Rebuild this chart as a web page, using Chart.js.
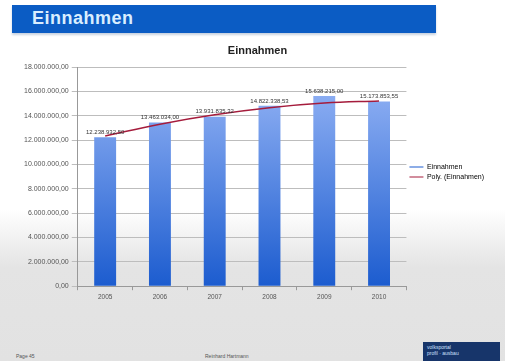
<!DOCTYPE html>
<html>
<head>
<meta charset="utf-8">
<script src="https://cdn.jsdelivr.net/npm/chart.js@4/dist/chart.umd.min.js"></script>
<style>
  html, body { margin: 0; padding: 0; }
  body {
    width: 505px; height: 361px; overflow: hidden; position: relative;
    font-family: "Liberation Sans", Arial, sans-serif;
    background: linear-gradient(to bottom, #ffffff 0%, #ffffff 58%, #e4e4e4 74%, #e2e2e2 100%);
  }
  #header {
    position: absolute; left: 12px; top: 5px; width: 424px; height: 28px;
    background: #0b5cc4; box-shadow: 0 2px 2px #c9d3e0;
  }
  #header span {
    position: absolute; left: 20px; top: 3px; font-size: 18px; font-weight: bold;
    color: #d9eeff; letter-spacing: 0.5px;
  }
  #wrap { position: absolute; left: 0; top: 40px; width: 500px; height: 264px; }
  .foot { position: absolute; font-size: 5px; color: #555; }
  #logo {
    position: absolute; left: 423px; top: 342px; width: 77px; height: 19px;
    background: #17356a; color: #cfe0ff; font-size: 5px; line-height: 6px; padding: 2px 4px; box-sizing: border-box;
  }
</style>
</head>
<body>
<div id="header"><span>Einnahmen</span></div>
<div id="wrap"><canvas id="chart"></canvas></div>
<div class="foot" style="left:16px; top:353px;">Page 45</div>
<div class="foot" style="left:205px; top:353px;">Reinhard Hartmann</div>
<div id="logo">volksportal<br>profil · ausbau</div>
<script>
const years = ['2005', '2006', '2007', '2008', '2009', '2010'];
const einnahmen = [12238932.50, 13463034.00, 13931835.32, 14822338.53, 15638215.00, 15173853.55];
const polyTrend = [12350000, 13320000, 14090000, 14670000, 15050000, 15230000];
const yTicks = [0, 2000000, 4000000, 6000000, 8000000, 10000000, 12000000, 14000000, 16000000, 18000000];

const fmt = v => v.toLocaleString('de-DE', { minimumFractionDigits: 2, maximumFractionDigits: 2 });
const FONT = '"Liberation Sans", Arial, sans-serif';

const barLabels = {
  id: 'barLabels',
  afterDatasetsDraw(chart) {
    const ctx = chart.ctx;
    const meta = chart.getDatasetMeta(1);
    ctx.save();
    ctx.font = '6px ' + FONT;
    ctx.fillStyle = '#333';
    ctx.textAlign = 'center';
    ctx.textBaseline = 'bottom';
    meta.data.forEach((bar, i) => {
      ctx.fillText(fmt(einnahmen[i]), bar.x, bar.y - 2);
    });
    ctx.restore();
  }
};

const ctx = document.getElementById('chart').getContext('2d');
new Chart(ctx, {
  data: {
    labels: years,
    datasets: [
      {
        type: 'line',
        label: 'Poly. (Einnahmen)',
        data: polyTrend,
        borderColor: '#a51c3c',
        backgroundColor: '#a51c3c',
        borderWidth: 1.5,
        pointRadius: 0,
        tension: 0.4,
        order: 0
      },
      {
        type: 'bar',
        label: 'Einnahmen',
        data: einnahmen,
        backgroundColor: (c) => {
          const area = c.chart.chartArea;
          if (!area) return '#3f7ae0';
          const g = c.chart.ctx.createLinearGradient(0, area.top, 0, area.bottom);
          g.addColorStop(0, '#9ab8f7');
          g.addColorStop(1, '#1c5ccf');
          return g;
        },
        borderWidth: 0,
        barPercentage: 0.4,
        categoryPercentage: 1,
        order: 1
      }
    ]
  },
  options: {
    responsive: true,
    maintainAspectRatio: false,
    animation: false,
    layout: { padding: { left: 21, right: 6, top: 0, bottom: 0 } },
    plugins: {
      title: {
        display: true,
        text: 'Einnahmen',
        color: '#222',
        font: { size: 11, weight: 'bold', family: FONT },
        padding: { top: 4, bottom: 10 }
      },
      legend: {
        position: 'right',
        align: 'center',
        reverse: true,
        labels: {
          boxWidth: 14,
          boxHeight: 1,
          padding: 3,
          color: '#333',
          font: { size: 7, family: FONT },
          generateLabels: (chart) => chart.data.datasets.map((d, i) => ({
            text: d.label,
            fillStyle: i === 0 ? '#a51c3c' : '#1c5ccf',
            strokeStyle: i === 0 ? '#a51c3c' : '#1c5ccf',
            lineWidth: 0,
            datasetIndex: i
          }))
        }
      },
      tooltip: { enabled: false }
    },
    scales: {
      x: {
        grid: { display: true, drawOnChartArea: false, offset: true, tickLength: 4, color: '#999' },
        border: { color: '#999' },
        ticks: { color: '#555', font: { size: 6.5, family: FONT }, padding: 3 }
      },
      y: {
        min: 0,
        max: 18000000,
        afterBuildTicks: (axis) => { axis.ticks = yTicks.map(v => ({ value: v })); },
        grid: { color: '#bdbdbd', tickLength: 6 },
        border: { color: '#999' },
        ticks: {
          color: '#555',
          font: { size: 7, family: FONT },
          padding: 3,
          callback: (v) => fmt(v)
        }
      }
    }
  },
  plugins: [barLabels]
});
</script>
</body>
</html>
